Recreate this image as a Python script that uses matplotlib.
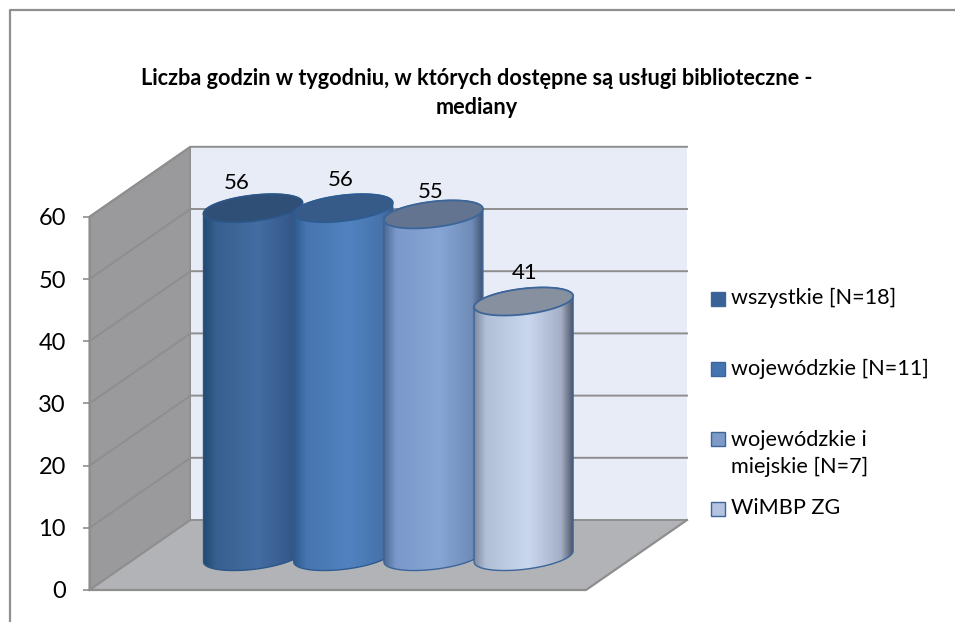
#!/usr/bin/env python3
"""Excel style 3D cylinder chart: library opening hours per week (medians)."""
import matplotlib

matplotlib.use("Agg")
import matplotlib.pyplot as plt
import numpy as np
from matplotlib.colors import LinearSegmentedColormap
from matplotlib.patches import Polygon, Rectangle

plt.rcParams["font.family"] = ["Lato", "DejaVu Sans"]

TITLE = "Liczba godzin w tygodniu, w których dostępne są usługi biblioteczne -\nmediany"
VALUES = [56, 56, 55, 41]
LEGEND_LABELS = ["wszystkie [N=18]", "wojewódzkie [N=11]", "wojewódzkie i\nmiejskie [N=7]", "WiMBP ZG"]
Y_TICKS = [0, 10, 20, 30, 40, 50, 60]

# left edge, mid, highlight, mid, right edge
BAR_COLORS = [
    ["#234a73", "#38608f", "#436da3", "#36588a", "#29486f"],
    ["#2e5a8e", "#4675ae", "#5283c1", "#4672a8", "#335a8a"],
    ["#4e6a94", "#7a99ca", "#87a6d6", "#708cb8", "#414f6b"],
    ["#7e8aa0", "#b0bed6", "#c9d7ef", "#a5b0c6", "#50576a"],
]
TOP_COLORS = ["#2f4f77", "#375b88", "#62748f", "#87909f"]
EDGE_COLORS = ["#2c5687", "#2e5c92", "#3c659a", "#3c659a"]
LEGEND_COLORS = ["#3a6296", "#4575b0", "#7d9ac8", "#b4c4e0"]

W, H = 955, 622
PX = 6.22  # pixels per value unit
Y0 = 590  # pixel row of value 0 on the front axis
X_AXIS = 89.5
X_RIGHT = 586
DX, DY = 101, 70  # depth of the box
BAR_X0, BAR_STEP = 253, 90.2
BAR_A, BAR_B, BAR_SKEW = 49.5, 12.9, 5.5
BAR_BASE = 33.5  # bar centre above the front floor edge, pixels
GRID = "#8e8e8e"


def val(row):
    """Pixel row to value units."""
    return (Y0 - row) / PX


def ellipse(cx, base, t):
    x = cx + BAR_A * np.cos(t)
    y = base + (BAR_SKEW * np.cos(t) + BAR_B * np.sin(t)) / PX
    return x, y


def draw_bar(ax, i, value):
    cx = BAR_X0 + i * BAR_STEP
    floor = BAR_BASE / PX
    top = floor + value

    t_top = np.linspace(0, np.pi, 60)  # back half, right to left
    t_bot = np.linspace(np.pi, 2 * np.pi, 60)  # front half, left to right
    xb, yb = ellipse(cx, floor, t_bot)
    xt, yt = ellipse(cx, top, t_top)
    body = np.column_stack([np.r_[xb, xt], np.r_[yb, yt]])

    cmap = LinearSegmentedColormap.from_list(
        f"bar{i}", list(zip([0, 0.12, 0.55, 0.88, 1], BAR_COLORS[i]))
    )
    grad = np.linspace(0, 1, 256).reshape(1, -1)
    patch = Polygon(body, closed=True, facecolor="none", edgecolor=EDGE_COLORS[i],
                    linewidth=1.0, zorder=5 + i)
    im = ax.imshow(grad, cmap=cmap, aspect="auto", zorder=5 + i, interpolation="bilinear",
                   extent=(cx - BAR_A, cx + BAR_A, floor - 3, top + 3))
    ax.add_patch(patch)
    im.set_clip_path(patch)

    t = np.linspace(0, 2 * np.pi, 120)
    xe, ye = ellipse(cx, top, t)
    ax.add_patch(Polygon(np.column_stack([xe, ye]), closed=True, facecolor=TOP_COLORS[i],
                         edgecolor=EDGE_COLORS[i], linewidth=1.3, zorder=5 + i))


def main() -> None:
    fig = plt.figure(figsize=(W / 100, H / 100), dpi=100)
    ax = fig.add_axes([0, 0, 1, 1])

    # Box: side wall, back wall, floor.
    depth = DY / PX
    top = Y_TICKS[-1]
    ax.add_patch(Polygon([(X_AXIS, 0), (X_AXIS + DX, depth), (X_AXIS + DX, top + depth), (X_AXIS, top)],
                         facecolor="#9a9a9c", edgecolor=GRID, linewidth=1.5, zorder=1))
    ax.add_patch(Rectangle((X_AXIS + DX, depth), X_RIGHT - X_AXIS, top,
                           facecolor="#e8ecf6", edgecolor="none", zorder=1))
    ax.add_patch(Polygon([(X_AXIS, 0), (X_AXIS + DX, depth), (X_RIGHT + DX, depth), (X_RIGHT, 0)],
                         facecolor="#b2b3b6", edgecolor="none", zorder=2))
    ax.plot([X_AXIS, X_RIGHT, X_RIGHT + DX], [0, 0, depth], color=GRID, lw=1.6, zorder=3)
    ax.plot([X_AXIS, X_AXIS + DX], [0, depth], color="#a4a4a6", lw=1.0, zorder=3)

    # Gridlines run along the side wall and across the back wall.
    for tick in Y_TICKS:
        ax.plot([X_AXIS, X_AXIS + DX, X_RIGHT + DX], [tick, tick + depth, tick + depth],
                color=GRID, lw=1.4, zorder=3)

    for i, value in enumerate(VALUES):
        draw_bar(ax, i, value)

    # Data labels sit a bit off the bar tops, as in the original.
    label_x = [237, 341, 431, 525]
    label_y = [183, 180, 192, 273]
    for x, y, value in zip(label_x, label_y, VALUES):
        ax.text(x, val(y), str(value), ha="center", va="center", fontsize=16, color="black", zorder=20)

    ax.text(477, val(93), TITLE, ha="center", va="center", fontsize=15.6, fontweight="bold",
            linespacing=1.5, zorder=20)

    # Legend.
    marker_y = [298.5, 368.5, 438.5, 508.5]
    text_y = [298, 369, 453.5, 508]
    for y, ty, label, color in zip(marker_y, text_y, LEGEND_LABELS, LEGEND_COLORS):
        ax.add_patch(Rectangle((710.5, val(y + 7)), 14.5, 14 / PX, facecolor=color,
                               edgecolor="#3c659a", linewidth=1.0, zorder=20))
        ax.text(731, val(ty), label, ha="left", va="center",
                fontsize=15.6, linespacing=1.42, zorder=20)

    # Chart frame.
    ax.plot([10, 10, W], [val(H), val(10), val(10)], color="#8f8f8f", lw=1.6, zorder=4)

    ax.set_xlim(0, W)
    ax.set_ylim(val(H), val(0))
    ax.set_xticks([])
    ax.set_yticks(Y_TICKS)
    for side in ["top", "right", "bottom"]:
        ax.spines[side].set_visible(False)
    ax.spines["left"].set_position(("data", X_AXIS))
    ax.spines["left"].set_bounds(Y_TICKS[0], Y_TICKS[-1])
    ax.spines["left"].set_color(GRID)
    ax.spines["left"].set_linewidth(1.5)
    ax.spines["left"].set_zorder(4)
    ax.tick_params(axis="y", direction="out", length=5, width=1.2, color=GRID,
                   labelsize=17, pad=12)
    fig.savefig("out.png", dpi=100)


if __name__ == "__main__":
    main()
